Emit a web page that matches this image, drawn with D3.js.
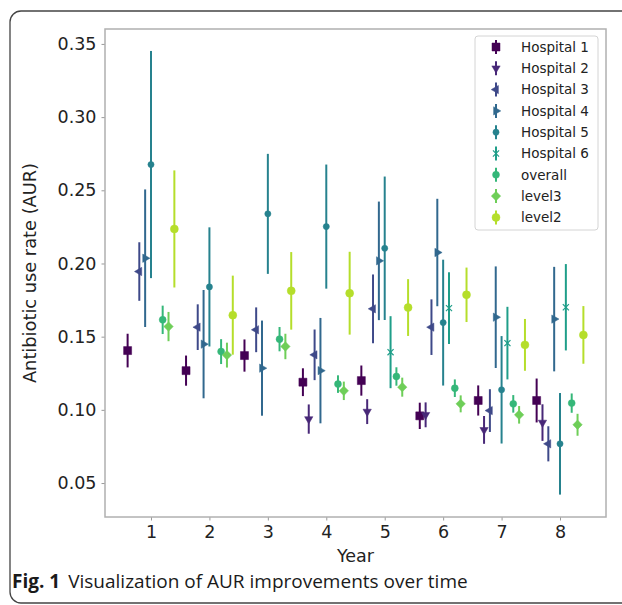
<!DOCTYPE html>
<html>
<head>
<meta charset="utf-8">
<script src="https://d3js.org/d3.v7.min.js"></script>
<style>
  body { margin: 0; background: #fff; }
  svg text { font-family: "DejaVu Sans", sans-serif; }
</style>
</head>
<body>
<div id="chart"></div>
<script>
"use strict"

// dados
var anos = [1, 2, 3, 4, 5, 6, 7, 8];
var series = ["Hospital 1", "Hospital 2", "Hospital 3", "Hospital 4", "Hospital 5", "Hospital 6", "overall", "level3", "level2"];
var deslocamentos = [-0.4, -0.3, -0.2, -0.1, 0, 0.1, 0.2, 0.3, 0.4];

var hosp1 = [0.1405, 0.1268, 0.1371, 0.1189, 0.1200, 0.0959, 0.1064, 0.1064];
var hosp1Erro = [0.0115, 0.0103, 0.0110, 0.0095, 0.0103, 0.0090, 0.0103, 0.0150];
var hosp2 = [null, null, null, 0.0937, 0.0988, 0.0966, 0.0863, 0.0913];
var hosp2Erro = [null, null, null, 0.0100, 0.0085, 0.0085, 0.0095, 0.0125];
var hosp3 = [0.1945, 0.1565, 0.1547, 0.1376, 0.1690, 0.1565, 0.0995, 0.0768];
var hosp3Erro = [0.0200, 0.0156, 0.0153, 0.0173, 0.0235, 0.0190, 0.0146, 0.0120];
var hosp4 = [0.2036, 0.1449, 0.1285, 0.1268, 0.2018, 0.2075, 0.1633, 0.1620];
var hosp4Erro = [0.0470, 0.0370, 0.0325, 0.0360, 0.0405, 0.0367, 0.0347, 0.0357];
var hosp5 = [0.2676, 0.1840, 0.2339, 0.2252, 0.2104, 0.1596, 0.1137, 0.0768];
var hosp5Erro = [0.0776, 0.0407, 0.0410, 0.0424, 0.0490, 0.0430, 0.0367, 0.0347];
var hosp6 = [null, null, null, null, 0.1394, 0.1695, 0.1456, 0.1701];
var hosp6Erro = [null, null, null, null, 0.0246, 0.0245, 0.0248, 0.0295];
var geral = [0.1615, 0.1398, 0.1483, 0.1176, 0.1228, 0.1148, 0.1041, 0.1046];
var geralErro = [0.0097, 0.0085, 0.0083, 0.0060, 0.0063, 0.0060, 0.0060, 0.0066];
var nivel3 = [0.1569, 0.1374, 0.1433, 0.1130, 0.1155, 0.1041, 0.0966, 0.0898];
var nivel3Erro = [0.0100, 0.0085, 0.0087, 0.0063, 0.0065, 0.0058, 0.0060, 0.0075];
var nivel2 = [0.2236, 0.1647, 0.1813, 0.1797, 0.1699, 0.1786, 0.1444, 0.1512];
var nivel2Erro = [0.0400, 0.0270, 0.0265, 0.0283, 0.0194, 0.0186, 0.0177, 0.0197];

var yTicks = [0.05, 0.10, 0.15, 0.20, 0.25, 0.30, 0.35];

var medias = [hosp1, hosp2, hosp3, hosp4, hosp5, hosp6, geral, nivel3, nivel2];
var erros = [hosp1Erro, hosp2Erro, hosp3Erro, hosp4Erro, hosp5Erro, hosp6Erro, geralErro, nivel3Erro, nivel2Erro];

// marcadores estilo matplotlib: s, v, <, >, h, x, o, D, o
var marcadores = [
  {tipo: d3.symbolSquare, area: 64, rot: 0},
  {tipo: d3.symbolTriangle, area: 30, rot: 180},
  {tipo: d3.symbolTriangle, area: 30, rot: -90},
  {tipo: d3.symbolTriangle, area: 30, rot: 90},
  {tipo: d3.symbolCircle, area: 30, rot: 0},
  {tipo: d3.symbolX, area: 26, rot: 0, traco: true},
  {tipo: d3.symbolCircle, area: 38, rot: 0},
  {tipo: d3.symbolSquare, area: 44, rot: 45},
  {tipo: d3.symbolCircle, area: 50, rot: 0}
];

var cores = series.map((s, i) => d3.interpolateViridis(i / 9));

var larguraSVG = 622, alturaSVG = 605;
var margin = {top: 29, right: 16, bottom: 88, left: 105};
var larguraVis = larguraSVG - margin.left - margin.right,
    alturaVis = alturaSVG - margin.top - margin.bottom;

var svg = d3.select('#chart').append('svg')
  .attr('width', larguraSVG)
  .attr('height', alturaSVG);

// moldura arredondada da figura
svg.append('rect')
  .attr('x', 10).attr('y', 11)
  .attr('width', 700).attr('height', 592)
  .attr('rx', 11)
  .style('fill', 'none')
  .style('stroke', '#444')
  .style('stroke-width', 1.3);

var grafico = svg.append('g')
  .attr('transform', 'translate(' + margin.left + ',' + margin.top + ')');

var x = d3.scaleLinear().domain([0.213, 8.787]).range([0, larguraVis]);
var y = d3.scaleLinear().domain([0.0268, 0.3602]).range([alturaVis, 0]);

// eixos
var eixoX = grafico.append('g')
  .attr('transform', 'translate(0,' + alturaVis + ')')
  .call(d3.axisBottom(x).tickValues(anos).tickFormat(d3.format('d')).tickSize(3.5).tickPadding(5));
var eixoY = grafico.append('g')
  .call(d3.axisLeft(y).tickValues(yTicks).tickFormat(d3.format('.2f')).tickSize(3.5).tickPadding(5));

[eixoX, eixoY].forEach(function(e) {
  e.select('.domain').remove();
  e.selectAll('line').style('stroke', '#999');
  e.selectAll('text').style('font-size', '17.5px').style('fill', '#222')
    .style('font-family', '"DejaVu Sans", sans-serif');
});

grafico.append('rect')
  .attr('width', larguraVis).attr('height', alturaVis)
  .style('fill', 'none').style('stroke', '#b0b0b0').style('stroke-width', 1.5);

grafico.append('text')
  .attr('x', larguraVis / 2).attr('y', alturaVis + 45)
  .attr('text-anchor', 'middle')
  .style('font-size', '17.5px').style('fill', '#222')
  .text('Year');

grafico.append('text')
  .attr('transform', 'translate(' + (30 - margin.left) + ',' + alturaVis / 2 + ') rotate(-90)')
  .attr('text-anchor', 'middle')
  .attr('dy', '0.35em')
  .style('font-size', '17.8px').style('fill', '#222')
  .text('Antibiotic use rate (AUR)');

function simbolo(m) {
  return d3.symbol().type(m.tipo).size(m.area)();
}

// barras de erro e marcadores
series.forEach(function(nome, i) {
  var pontos = anos.map((a, k) => ({x: a + deslocamentos[i], m: medias[i][k], e: erros[i][k]}))
    .filter(d => d.m !== null);
  var g = grafico.append('g');
  g.selectAll('line')
    .data(pontos)
    .enter()
    .append('line')
      .attr('x1', d => x(d.x)).attr('x2', d => x(d.x))
      .attr('y1', d => y(d.m - d.e)).attr('y2', d => y(d.m + d.e))
      .style('stroke', cores[i]).style('stroke-width', 2);
  var m = marcadores[i];
  g.selectAll('path')
    .data(pontos)
    .enter()
    .append('path')
      .attr('d', simbolo(m))
      .attr('transform', d => 'translate(' + x(d.x) + ',' + y(d.m) + ') rotate(' + m.rot + ')')
      .style('fill', m.traco ? 'none' : cores[i])
      .style('stroke', cores[i])
      .style('stroke-width', m.traco ? 1.2 : 0.5);
});

// legenda
var legenda = svg.append('g').attr('transform', 'translate(475,36)');
legenda.append('rect')
  .attr('width', 123).attr('height', 194).attr('rx', 3)
  .style('fill', 'rgba(255,255,255,0.8)')
  .style('stroke', '#d4d4d4');

series.forEach(function(nome, i) {
  var yy = 11 + i * 21.3;
  var item = legenda.append('g').attr('transform', 'translate(21,' + yy + ')');
  item.append('line')
    .attr('y1', -7).attr('y2', 7)
    .style('stroke', cores[i]).style('stroke-width', 2);
  var m = marcadores[i];
  item.append('path')
    .attr('d', simbolo(m))
    .attr('transform', 'rotate(' + m.rot + ')')
    .style('fill', m.traco ? 'none' : cores[i])
    .style('stroke', cores[i])
    .style('stroke-width', m.traco ? 1.2 : 0.5);
  item.append('text')
    .attr('x', 25).attr('dy', '0.35em')
    .style('font-size', '13.5px').style('fill', '#222')
    .text(nome);
});

// legenda da figura
var titulo = svg.append('text')
  .attr('x', 12).attr('y', 588)
  .style('font-family', '"Open Sans", sans-serif')
  .style('font-size', '19px')
  .style('fill', '#1a1a1a');
titulo.append('tspan').style('font-weight', 'bold').text('Fig. 1');
titulo.append('tspan').attr('dx', 8).text('Visualization of AUR improvements over time');
</script>
</body>
</html>
